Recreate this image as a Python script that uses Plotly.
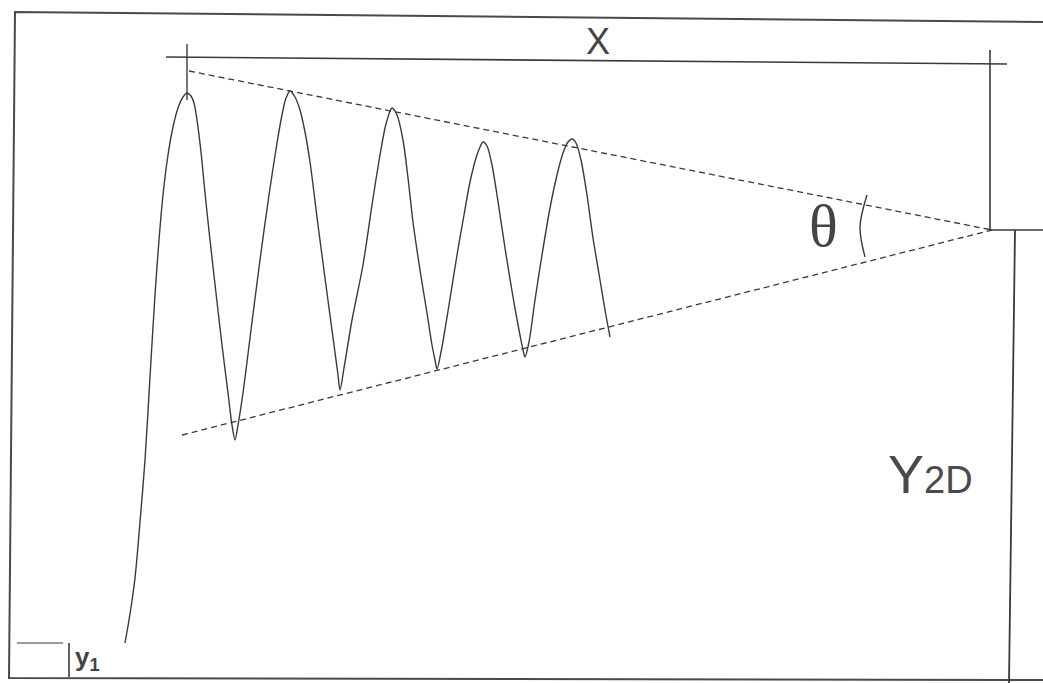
import plotly.graph_objects as go

# page size of the scanned figure (pixel coordinates, y grows downward)
W, H = 1043, 683

# oscillating response curve, key points
curve_x = [125, 130, 135, 140, 145, 150, 155, 159, 163, 168, 173, 178, 183, 187,
           191, 194, 197, 201, 205, 210, 216, 222, 228, 232, 235,
           238, 243, 251, 260, 269, 277, 282, 286, 290,
           295, 300, 305, 310, 318, 327, 334, 338, 340,
           344, 352, 363, 372, 380, 386, 392,
           397, 403, 408, 413, 420, 427, 432, 435, 437,
           441, 449, 457, 464, 470, 476, 480, 483,
           487, 492, 497, 505, 513, 519, 523, 525,
           529, 535, 542, 550, 557, 563, 568, 572,
           576, 581, 587, 593, 600, 605, 610]
curve_y = [643, 614, 578, 522, 460, 377, 295, 240, 195, 155, 127, 108, 97, 93,
           96, 103, 120, 152, 193, 240, 293, 345, 393, 425, 440,
           425, 393, 330, 260, 195, 143, 115, 98, 91,
           97, 110, 132, 162, 225, 293, 345, 375, 390,
           368, 320, 265, 205, 155, 124, 108,
           115, 140, 178, 222, 270, 313, 345, 360, 369,
           352, 305, 255, 215, 182, 158, 147, 142,
           146, 165, 195, 248, 297, 330, 350, 357,
           342, 300, 255, 208, 175, 153, 142, 139,
           143, 160, 195, 238, 280, 310, 337]

# dashed envelope lines meeting at the apex
upper_x = [189, 992]
upper_y = [71, 230]
lower_x = [182, 992]
lower_y = [435, 230]

# dimension line for X and its end ticks
dim_x = [166, 1007]
dim_y = [57, 64]
tick_left_x = [187, 187]
tick_left_y = [44, 100]
tick_right_x = [990, 990]
tick_right_y = [50, 230]

# apex line to the right edge and the Y2D boundary
apex_x = [990, 1043]
apex_y = [230, 230]
edge_x = [1015, 1009]
edge_y = [230, 683]

# picture frame
frame_x = [1043, 15, 9, 1043]
frame_y = [22, 12, 678, 680]

# y1 marker at the bottom left
y1_h_x = [17, 63]
y1_h_y = [643, 643]
y1_v_x = [69, 69]
y1_v_y = [643, 677]

# angle arc
arc_x = [867, 860, 865]
arc_y = [195, 227, 257]

ink = "#3a3a3a"

fig = go.Figure()


def add_line(xs, ys, width=1.4, dash="solid", shape="linear", color=ink, smooth=1.0):
    line = dict(color=color, width=width, dash=dash, shape=shape)
    if shape == "spline":
        line["smoothing"] = smooth
    fig.add_trace(go.Scatter(x=xs, y=ys, mode="lines", hoverinfo="skip", line=line))


add_line(frame_x, frame_y, width=2, color="#4a4a4a")
add_line(dim_x, dim_y, width=1.6)
add_line(tick_left_x, tick_left_y, width=1.4)
add_line(tick_right_x, tick_right_y, width=1.6)
add_line(apex_x, apex_y, width=1.6)
add_line(edge_x, edge_y, width=1.8)
add_line(upper_x, upper_y, width=1.3, dash="6px,4px")
add_line(lower_x, lower_y, width=1.3, dash="6px,4px")
add_line(curve_x, curve_y, width=1.4, shape="spline", smooth=0.85)
add_line(arc_x, arc_y, width=1.4, shape="spline")
add_line(y1_h_x, y1_h_y, width=1.2)
add_line(y1_v_x, y1_v_y, width=1.6)

fig.add_annotation(x=598, y=41, text="X", showarrow=False,
                   font=dict(family="Liberation Sans", size=36, color="#444"))
fig.add_annotation(x=823, y=226, text="θ", showarrow=False,
                   font=dict(family="Liberation Serif", size=60, color="#444"))
fig.add_annotation(x=930, y=474, text="Y<span style='font-size:38px'>2D</span>", showarrow=False,
                   font=dict(family="Liberation Sans", size=54, color="#4a4a4a"))
fig.add_annotation(x=73, y=658, text="<b>y<sub>1</sub></b>", showarrow=False, xanchor="left",
                   font=dict(family="Liberation Sans", size=26, color="#444"))

fig.update_xaxes(range=[0, W], visible=False, fixedrange=True)
fig.update_yaxes(range=[H, 0], visible=False, fixedrange=True)
fig.update_layout(width=W, height=H, margin=dict(l=0, r=0, t=0, b=0),
                  showlegend=False, plot_bgcolor="white", paper_bgcolor="white")

# the page body has a default 8px margin; drop it so the picture starts at the corner
fig.write_html("out.html", config={"displayModeBar": False},
               post_script="document.body.style.margin='0';")
